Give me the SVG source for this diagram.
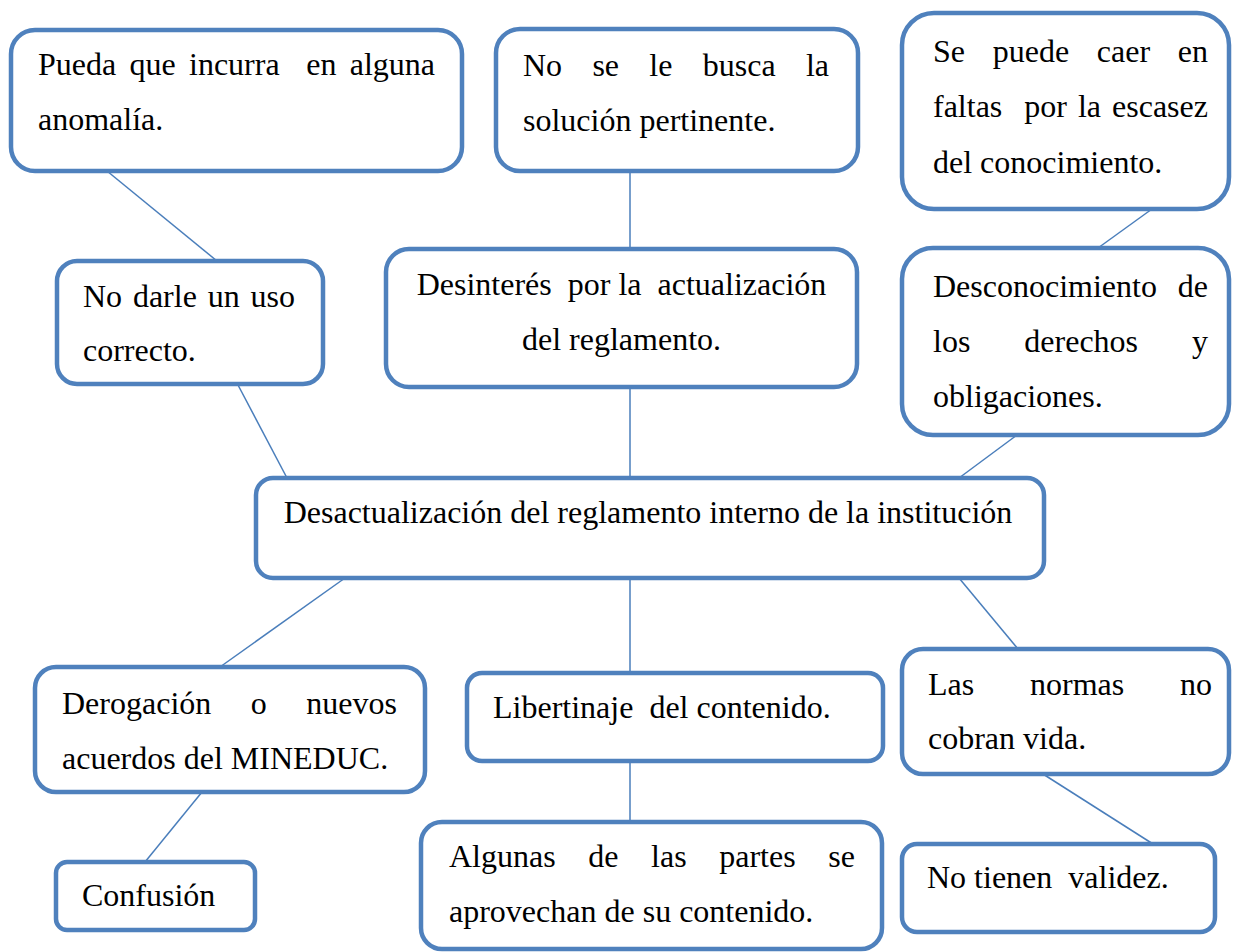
<svg xmlns="http://www.w3.org/2000/svg" width="1233" height="952" viewBox="0 0 1233 952">
<style>
.box{fill:#ffffff;stroke:#4F81BD;stroke-width:4.5}
.ln{stroke:#4A7EBB;stroke-width:1.5;fill:none}
.t{font-family:'Liberation Serif','DejaVu Serif',serif;font-size:32px;fill:#000000}
</style>
<rect width="1233" height="952" fill="#ffffff"/>
<g id="connectors">
<line class="ln" x1="107" y1="171" x2="217" y2="261"/>
<line class="ln" x1="630" y1="171" x2="630" y2="249"/>
<line class="ln" x1="1152" y1="209" x2="1098" y2="248"/>
<line class="ln" x1="238" y1="385" x2="287" y2="478"/>
<line class="ln" x1="630" y1="387" x2="630" y2="478"/>
<line class="ln" x1="1017" y1="435" x2="959" y2="478"/>
<line class="ln" x1="345" y1="578" x2="220" y2="667"/>
<line class="ln" x1="630" y1="578" x2="630" y2="673"/>
<line class="ln" x1="959" y1="578" x2="1018" y2="649"/>
<line class="ln" x1="202" y1="792" x2="145" y2="862"/>
<line class="ln" x1="630" y1="761" x2="630" y2="822"/>
<line class="ln" x1="1043" y1="774" x2="1153" y2="844"/>
</g>
<g class="t" font-family="Liberation Serif, DejaVu Serif, serif">
<g id="node-anomalia">
<rect class="box" x="11" y="30" width="451" height="141" rx="24"/>
<text x="38" y="75" xml:space="preserve" word-spacing="5.3">Pueda que incurra  en alguna</text>
<text x="38" y="130">anomalía.</text>
</g>
<g id="node-solucion">
<rect class="box" x="496" y="29" width="362" height="142" rx="24"/>
<text x="523" y="76" word-spacing="22.3">No se le busca la</text>
<text x="523" y="131">solución pertinente.</text>
</g>
<g id="node-faltas">
<rect class="box" x="902" y="13" width="327" height="196" rx="32"/>
<text x="933" y="62" word-spacing="19.7">Se puede caer en</text>
<text x="933" y="117" xml:space="preserve" word-spacing="3">faltas  por la escasez</text>
<text x="933" y="173">del conocimiento.</text>
</g>
<g id="node-desinteres">
<rect class="box" x="386" y="249" width="471" height="138" rx="23"/>
<text x="621.5" y="295" text-anchor="middle" xml:space="preserve">Desinterés  por la  actualización</text>
<text x="621.5" y="350" text-anchor="middle">del reglamento.</text>
</g>
<g id="node-desconocimiento">
<rect class="box" x="902" y="248" width="327" height="187" rx="31"/>
<text x="933" y="297" word-spacing="12.8">Desconocimiento de</text>
<text x="933" y="352" word-spacing="46">los derechos y</text>
<text x="933" y="407">obligaciones.</text>
</g>
<g id="node-uso">
<rect class="box" x="57" y="261" width="266" height="123" rx="20"/>
<text x="83" y="307" word-spacing="2.8">No darle un uso</text>
<text x="83" y="361">correcto.</text>
</g>
<g id="node-central">
<rect class="box" x="256" y="478" width="788" height="100" rx="17"/>
<text x="648" y="523" text-anchor="middle">Desactualización del reglamento interno de la institución</text>
</g>
<g id="node-derogacion">
<rect class="box" x="35" y="667" width="390" height="125" rx="21"/>
<text x="62" y="714" word-spacing="31.5">Derogación o nuevos</text>
<text x="62" y="769">acuerdos del MINEDUC.</text>
</g>
<g id="node-confusion">
<rect class="box" x="56" y="862" width="199" height="68" rx="11"/>
<text x="82" y="906">Confusión</text>
</g>
<g id="node-libertinaje">
<rect class="box" x="467" y="673" width="416" height="88" rx="15"/>
<text x="493" y="718" xml:space="preserve">Libertinaje  del contenido.</text>
</g>
<g id="node-algunas">
<rect class="box" x="421" y="822" width="461" height="127" rx="21"/>
<text x="449" y="867" word-spacing="24.6">Algunas de las partes se</text>
<text x="449" y="922">aprovechan de su contenido.</text>
</g>
<g id="node-normas">
<rect class="box" x="902" y="649" width="327" height="125" rx="21"/>
<text x="928" y="695" word-spacing="47.8">Las normas no</text>
<text x="928" y="749">cobran vida.</text>
</g>
<g id="node-validez">
<rect class="box" x="902" y="844" width="313" height="88" rx="15"/>
<text x="927" y="888" xml:space="preserve">No tienen  validez.</text>
</g>
</g>
</svg>
